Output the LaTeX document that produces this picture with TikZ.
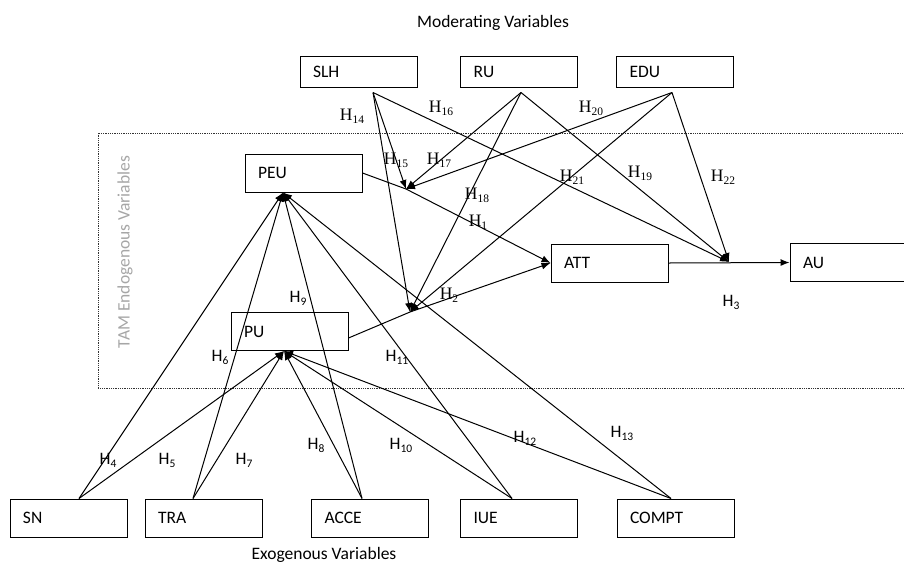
\documentclass[tikz,border=0pt]{standalone}
\usepackage{fontspec}
\setmainfont{Carlito}
\newfontfamily\tnr{Liberation Serif}
\usetikzlibrary{arrows.meta}
\newcommand\hsans[1]{H\raisebox{-3pt}{\fontsize{11.5}{11.5}\selectfont #1}}
\newcommand\hser[1]{{\tnr H\raisebox{-3pt}{\fontsize{11.5}{11.5}\selectfont #1}}}
\begin{document}
\begin{tikzpicture}[x=1pt,y=-1pt,font=\fontsize{17.5}{20}\selectfont,
  box/.style={draw,line width=1pt,minimum height=38pt,text width=91pt,inner xsep=13pt,inner ysep=0pt,align=left},
  topbox/.style={box,minimum height=31pt},
  link/.style={line width=1pt,-{Latex[length=9pt,width=7pt]}},
  plain/.style={line width=1pt},
  lab/.style={inner sep=0pt},
  frame/.style={line width=0.8pt,dash pattern=on 0.9pt off 0.9pt,black!80}]
\useasboundingbox (0,0) rectangle (904,563);
% dotted frame
\draw[frame] (910,133) -- (98,133) -- (98,388) -- (910,388);
\node[rotate=90,text=black!35] (tam) at (125,252) {TAM Endogenous Variables};
% titles
\node (mod) at (493,23) {Moderating Variables};
\node (exo) at (324,555) {Exogenous Variables};
% boxes
\node[topbox] (SLH) at (358.5,71.5) {SLH};
\node[topbox] (RU) at (519,71.5) {RU};
\node[topbox] (EDU) at (675,71.5) {EDU};
\node[box] (PEU) at (303.5,173) {PEU};
\node[box] (PU) at (289.5,331.5) {PU};
\node[box] (ATT) at (609.5,263) {ATT};
\node[box] (AU) at (848.5,262.5) {AU};
\node[box] (SN) at (68.5,518) {SN};
\node[box] (TRA) at (203.5,518) {TRA};
\node[box] (ACCE) at (370,518) {ACCE};
\node[box] (IUE) at (519,518) {IUE};
\node[box] (COMPT) at (675.5,518) {COMPT};
% coordinates
\coordinate (m1) at (406,189);
\coordinate (m2) at (410,312);
\coordinate (m3) at (729,262);
\coordinate (peuIn) at ([xshift=-20.5pt]PEU.south);
\coordinate (puIn) at ([xshift=-5.5pt]PU.south);
\coordinate (slhO) at ([xshift=14.5pt,yshift=-5pt]SLH.south);
\coordinate (ruO) at ([xshift=2pt,yshift=-5pt]RU.south);
\coordinate (eduO) at ([xshift=-3pt,yshift=-5pt]EDU.south);
\coordinate (snO) at ([xshift=10.5pt]SN.north);
\coordinate (traO) at ([xshift=-10.5pt]TRA.north);
\coordinate (acceO) at ([xshift=-8pt]ACCE.north);
\coordinate (iueO) at ([xshift=-7pt]IUE.north);
\coordinate (comptO) at ([xshift=-4.5pt]COMPT.north);
% TAM core
\draw[plain] (PEU.east) -- (m1);
\draw[link] (m1) -- (ATT.west);
\draw[plain] ([yshift=-6.5pt]PU.east) -- (m2);
\draw[link] (m2) -- (ATT.west);
\draw[link] (ATT.east) -- (AU.west);
% moderators
\draw[link] (slhO) -- (m1);
\draw[link] (slhO) -- (m2);
\draw[link] (slhO) -- (m3);
\draw[link] (ruO) -- (m1);
\draw[link] (ruO) -- (m2);
\draw[link] (ruO) -- (m3);
\draw[link] (eduO) -- (m1);
\draw[link] (eduO) -- (m2);
\draw[link] (eduO) -- (m3);
% exogenous
\foreach \s in {snO,traO,acceO,iueO,comptO}{
  \draw[link] (\s) -- (peuIn);
  \draw[link] (\s) -- (puIn);
}
% labels
\node[lab] (h1) at (478,222) {\hser{1}};
\node[lab] (h2) at (449,295) {\hser{2}};
\node[lab] (h3) at (731,302) {\hsans{3}};
\node[lab] (h4) at (108,460) {\hsans{4}};
\node[lab] (h5) at (167,460) {\hsans{5}};
\node[lab] (h6) at (220,357) {\hsans{6}};
\node[lab] (h7) at (244,460) {\hsans{7}};
\node[lab] (h8) at (316,445) {\hsans{8}};
\node[lab] (h9) at (298,298) {\hsans{9}};
\node[lab] (h10) at (401,445) {\hsans{10}};
\node[lab] (h11) at (397,357) {\hsans{11}};
\node[lab] (h12) at (525,438) {\hsans{12}};
\node[lab] (h13) at (622,433) {\hsans{13}};
\node[lab] (h14) at (352,116) {\hser{14}};
\node[lab] (h15) at (396,160) {\hser{15}};
\node[lab] (h16) at (441,108) {\hser{16}};
\node[lab] (h17) at (439,160) {\hser{17}};
\node[lab] (h18) at (477,195) {\hser{18}};
\node[lab] (h19) at (640,173) {\hser{19}};
\node[lab] (h20) at (591,108) {\hser{20}};
\node[lab] (h21) at (572,177) {\hser{21}};
\node[lab] (h22) at (723,177) {\hser{22}};
\end{tikzpicture}
\end{document}
